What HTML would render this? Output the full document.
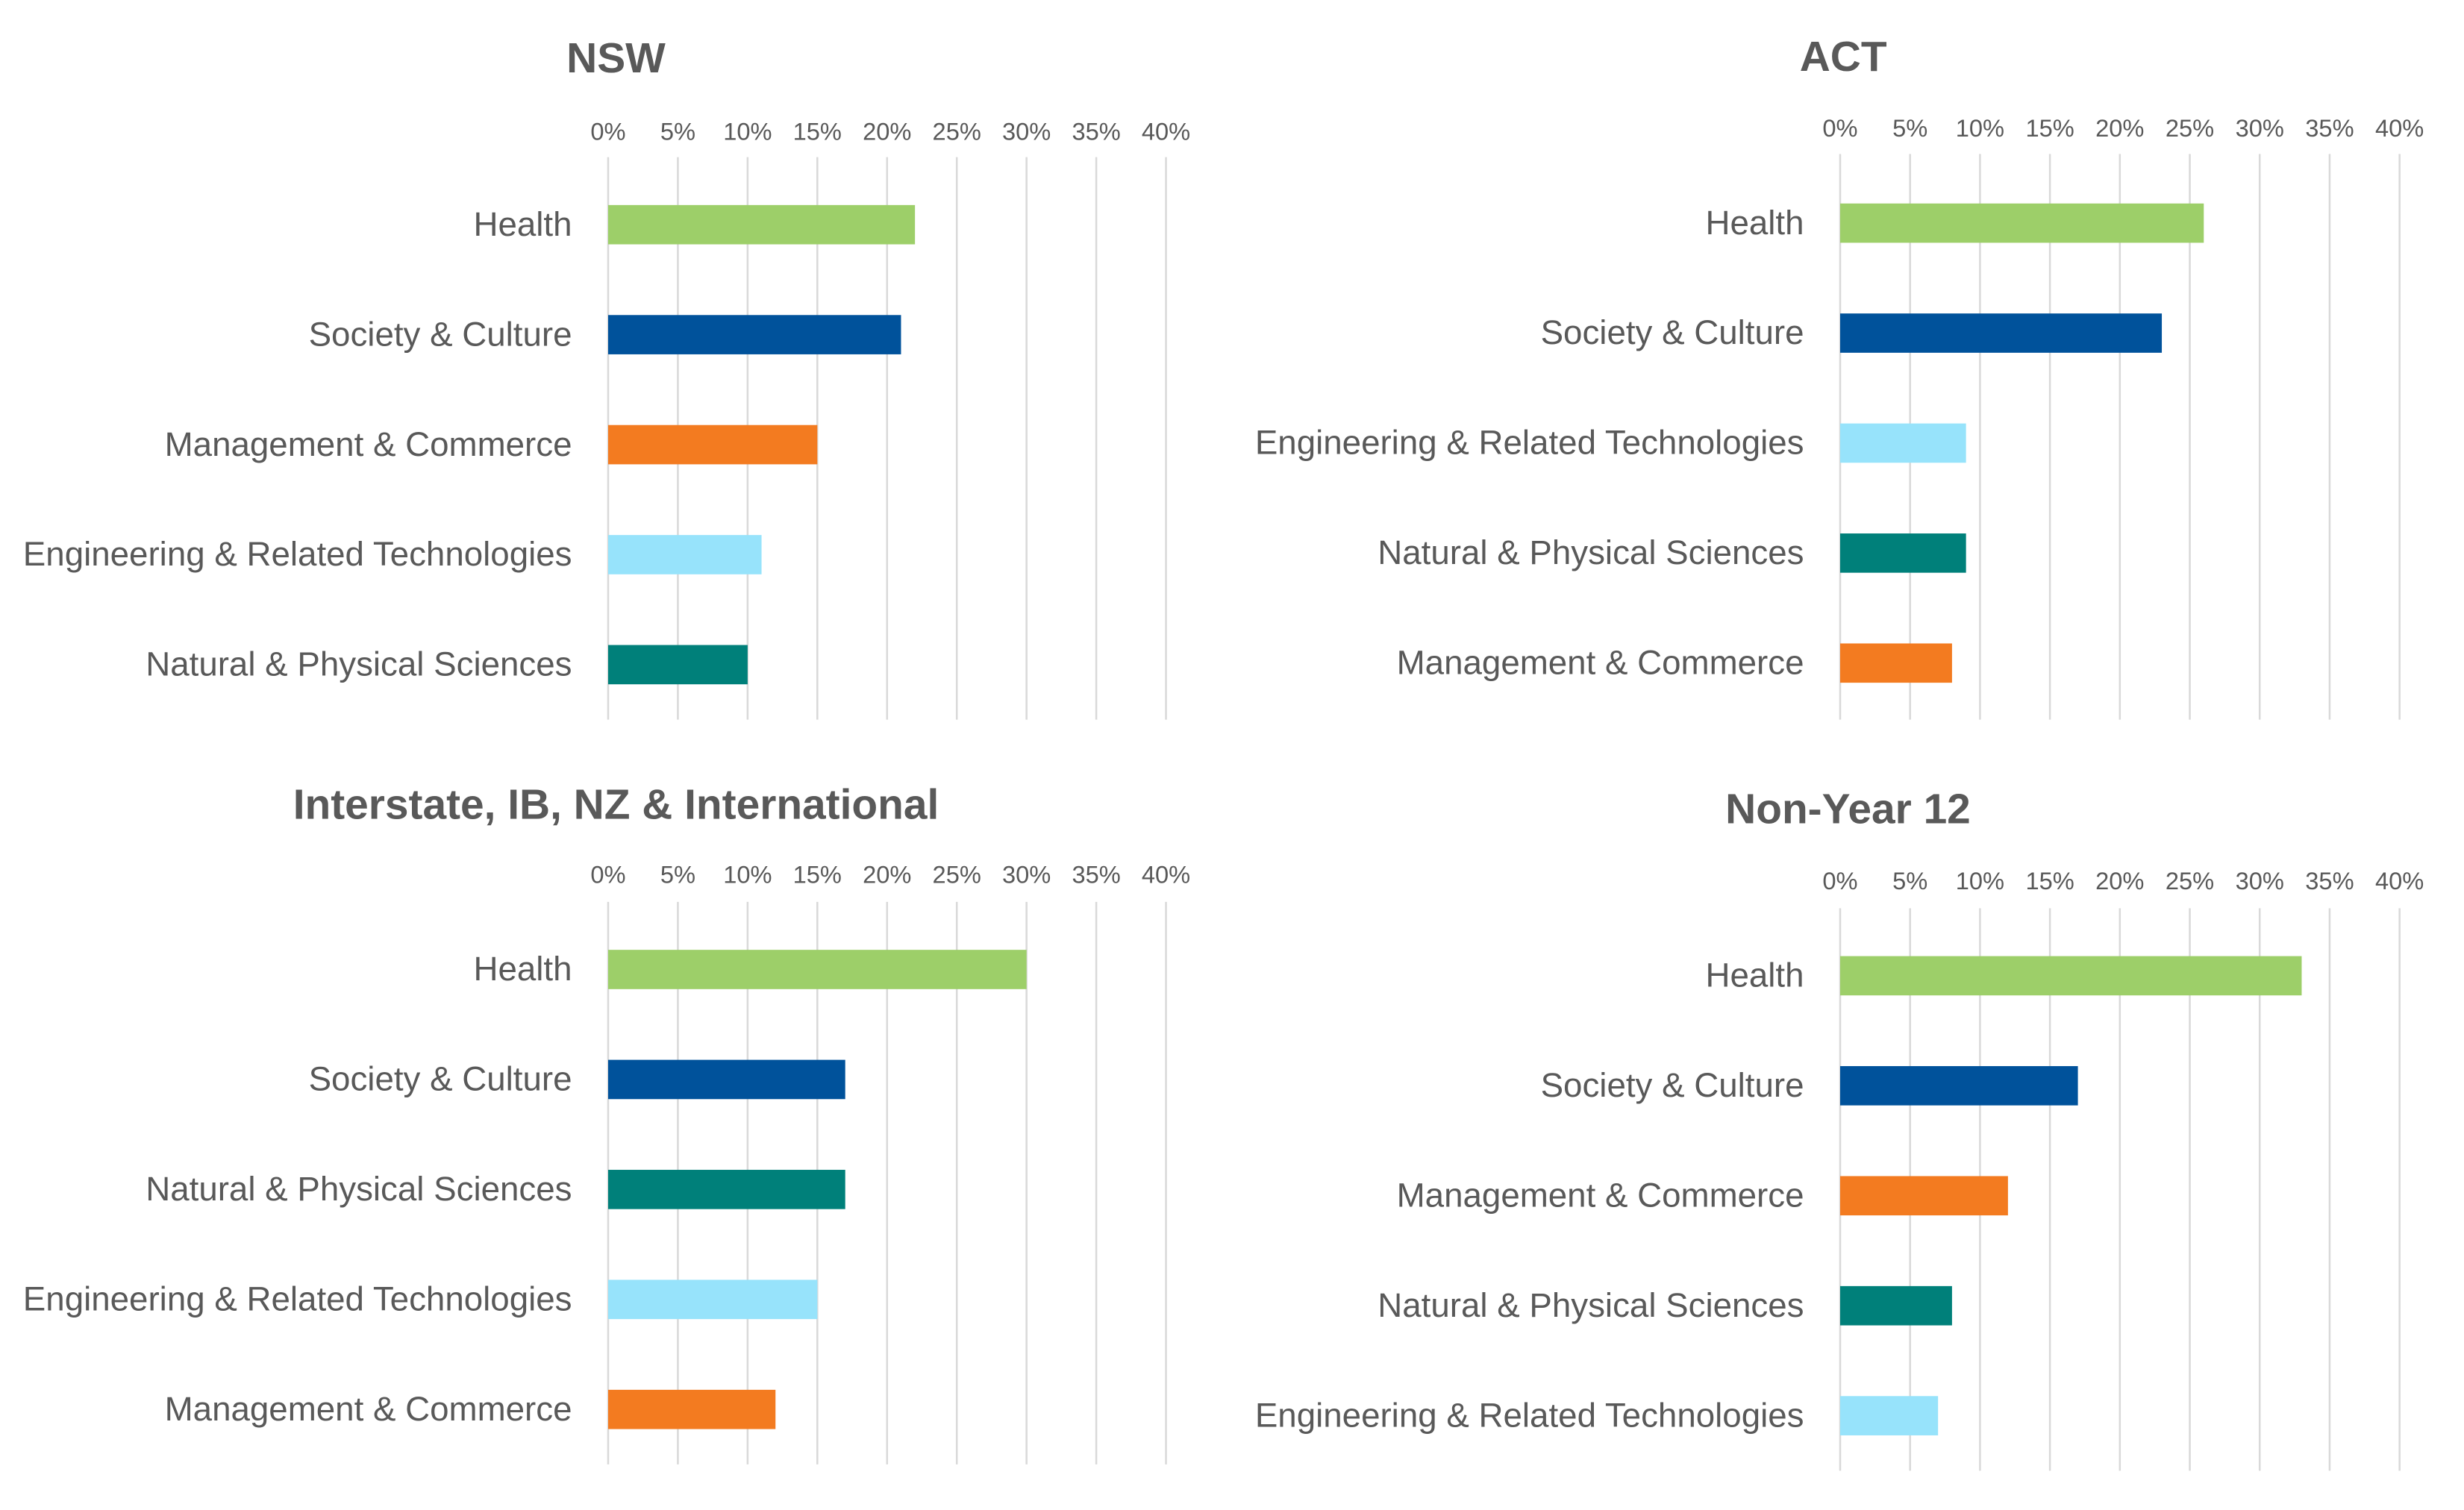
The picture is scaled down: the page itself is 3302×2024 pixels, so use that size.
<!DOCTYPE html>
<html><head><meta charset="utf-8"><style>
html,body{margin:0;padding:0;background:#fff;}
svg{display:block;font-family:"Liberation Sans",sans-serif;}
</style></head><body>
<svg id="chart" width="3302" height="2024" viewBox="0 0 1568 961" preserveAspectRatio="none" xmlns="http://www.w3.org/2000/svg"></svg>
<script>
const ticks = [0,5,10,15,20,25,30,35,40];
const tickLabels = ["0%","5%","10%","15%","20%","25%","30%","35%","40%"];
const colorMap = {"Health":"#9DCF69","Society & Culture":"#00529B","Management & Commerce":"#F37B20","Engineering & Related Technologies":"#97E3FB","Natural & Physical Sciences":"#00807A"};
const nswCats = ["Health","Society & Culture","Management & Commerce","Engineering & Related Technologies","Natural & Physical Sciences"];
const nswVals = [22,21,15,11,10];
const actCats = ["Health","Society & Culture","Engineering & Related Technologies","Natural & Physical Sciences","Management & Commerce"];
const actVals = [26,23,9,9,8];
const intCats = ["Health","Society & Culture","Natural & Physical Sciences","Engineering & Related Technologies","Management & Commerce"];
const intVals = [30,17,17,15,12];
const ny12Cats = ["Health","Society & Culture","Management & Commerce","Natural & Physical Sciences","Engineering & Related Technologies"];
const ny12Vals = [33,17,12,8,7];

const NS="http://www.w3.org/2000/svg";
const svg=document.getElementById('chart');
function mk(tag,attrs,parent){const e=document.createElementNS(NS,tag);for(const k in attrs)e.setAttribute(k,attrs[k]);(parent||svg).appendChild(e);return e;}

function panel(name,title,cats,vals,x0,x1,titleX,titleY,tickY,gTop,gBot,barY0){
  const g=mk('g',{});
  
  
  const xs=v=>x0+(x1-x0)*v/40;
  const t=mk('text',{x:titleX,y:titleY,'text-anchor':'middle','font-size':27,'font-weight':'bold',fill:'#595959'},g);
  t.textContent=title;
  
  
  ticks.forEach((tv,i)=>{
    const l=mk('line',{x1:xs(tv),x2:xs(tv),y1:gTop,y2:gBot,stroke:'#D9D9D9','stroke-width':1.2},g);
    
    
    const tl=mk('text',{x:xs(tv),y:tickY+6,'text-anchor':'middle','font-size':15.5,fill:'#595959'},g);
    tl.textContent=tickLabels[i];
    
    
  });
  cats.forEach((c,i)=>{
    const cy=barY0+70*i;
    const r=mk('rect',{x:xs(0),y:cy-12.5,width:xs(vals[i])-xs(0),height:25,fill:colorMap[c]},g);
    
    
    const lt=mk('text',{x:x0-23,y:cy+7,'text-anchor':'end','font-size':21.7,fill:'#595959'},g);
    lt.textContent=c;
    
    
  });
}
panel('nsw','NSW',nswCats,nswVals,387,742,392,46,83,100,458,143);
panel('act','ACT',actCats,actVals,1171,1527,1173,45,81,98,458,142);
panel('interstate','Interstate, IB, NZ & International',intCats,intVals,387,742,392,521,556,574,932,617);
panel('non-year-12','Non-Year 12',ny12Cats,ny12Vals,1171,1527,1176,524,560,578,936,621);
</script>
</body></html>
